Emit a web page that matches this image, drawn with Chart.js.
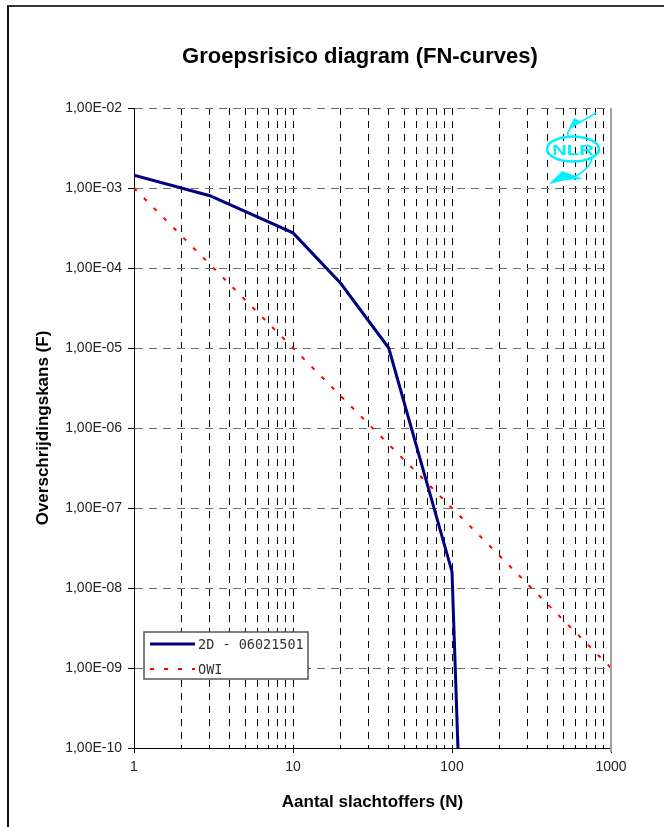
<!DOCTYPE html>
<html>
<head>
<meta charset="utf-8">
<script src="https://cdn.jsdelivr.net/npm/chart.js@4.4.1/dist/chart.umd.min.js"></script>
<style>
  body { margin: 0; background: #fff; overflow: hidden; }
  #wrap { position: relative; width: 664px; height: 827px; }
  #frame { position: absolute; left: 7px; top: 5px; width: 720px; height: 900px; border-top: 2px solid #333; border-left: 2px solid #111; }
  canvas { position: absolute; left: 0; top: 0; }
</style>
</head>
<body>
<div id="wrap">
  <canvas id="fn" width="664" height="827"></canvas>
  <div id="frame"></div>
</div>
<script>
// FN-curve data
const seriesNames = ['2D - 06021501', 'OWI'];
const curveN = [1, 3, 10, 20, 40, 100, 109];
const curveF = [1.45e-3, 8.0e-4, 2.75e-4, 6.4e-5, 1.0e-5, 1.6e-8, 1.0e-10];
const owiN = [1, 1000];
const owiF = [1e-3, 1e-9];
const xTickLabels = ['1', '10', '100', '1000'];
const yTickLabels = ['1,00E-02', '1,00E-03', '1,00E-04', '1,00E-05', '1,00E-06',
                     '1,00E-07', '1,00E-08', '1,00E-09', '1,00E-10'];

Chart.defaults.font.family = '"Liberation Sans", Arial, sans-serif';
Chart.defaults.color = '#222';

let ctx = document.getElementById('fn').getContext('2d');

// title is centred on the whole (cropped) excel chart, not the plot area
const titlePlugin = {
  id: 'fnTitle',
  afterDraw(chart) {
    const c = chart.ctx;
    c.save();
    c.font = 'bold 22px "Liberation Sans", Arial';
    c.fillStyle = '#000';
    c.textAlign = 'center';
    c.textBaseline = 'middle';
    c.fillText('Groepsrisico diagram (FN-curves)', 360, 57);
    c.restore();
  }
};

// grey right border of plot area
const borderPlugin = {
  id: 'rightBorder',
  afterDraw(chart) {
    const a = chart.chartArea, c = chart.ctx;
    c.save();
    c.strokeStyle = '#a0a0a0';
    c.lineWidth = 2;
    c.beginPath();
    c.moveTo(a.right, a.top);
    c.lineTo(a.right, a.bottom + 4);
    c.stroke();
    c.restore();
  }
};

// legend box inside the plot
const legendPlugin = {
  id: 'boxLegend',
  afterDraw(chart) {
    const c = chart.ctx;
    const x = 144, y = 632, w = 164, h = 47;
    c.save();
    c.fillStyle = '#fff';
    c.fillRect(x, y, w, h);
    c.strokeStyle = '#555';
    c.lineWidth = 1.5;
    c.strokeRect(x, y, w, h);
    chart.data.datasets.forEach((ds, i) => {
      const ly = y + 12 + i * 25;
      c.strokeStyle = ds.borderColor;
      c.lineWidth = ds.borderWidth;
      c.setLineDash(ds.borderDash || []);
      c.beginPath();
      c.moveTo(x + 6, ly);
      c.lineTo(x + 51, ly);
      c.stroke();
      c.setLineDash([]);
      c.fillStyle = '#333';
      c.font = '13.5px "DejaVu Sans Mono", monospace';
      c.textBaseline = 'middle';
      c.fillText(ds.label, x + 54, ly + 1);
    });
    c.restore();
  }
};

// NLR logo top right
const logoPlugin = {
  id: 'nlrLogo',
  afterDraw(chart) {
    const c = chart.ctx;
    c.save();
    c.strokeStyle = '#00f0ff';
    c.fillStyle = '#00f0ff';
    c.lineWidth = 2.5;
    c.beginPath();
    c.ellipse(573, 149, 26, 12.5, 0, 0, Math.PI * 2);
    c.stroke();
    c.save();
    c.translate(573, 150);
    c.scale(1.35, 1);
    c.font = 'bold 15px "Liberation Sans", Arial';
    c.textAlign = 'center';
    c.textBaseline = 'middle';
    c.fillText('NLR', 0, 1);
    c.restore();
    c.lineWidth = 1.5;
    c.beginPath();
    c.moveTo(596, 113);
    c.lineTo(575, 125);
    c.quadraticCurveTo(566, 130, 568, 136);
    c.stroke();
    c.beginPath();
    c.moveTo(569, 128);
    c.lineTo(574, 118);
    c.lineTo(582, 122);
    c.closePath();
    c.fill();
    c.beginPath();
    c.moveTo(592, 159);
    c.quadraticCurveTo(589, 170, 572, 178);
    c.stroke();
    c.beginPath();
    c.moveTo(549, 184);
    c.lineTo(562, 171);
    c.lineTo(583, 179);
    c.lineTo(566, 180);
    c.closePath();
    c.fill();
    c.restore();
  }
};

let fnChart = new Chart(ctx, {
  type: 'line',
  data: {
    datasets: [{
      label: seriesNames[0],
      data: curveN.map((n, i) => ({x: n, y: curveF[i]})),
      borderColor: '#000080',
      borderWidth: 3,
      pointRadius: 0,
      tension: 0,
      fill: false
    }, {
      label: seriesNames[1],
      data: owiN.map((n, i) => ({x: n, y: owiF[i]})),
      borderColor: '#ff0000',
      borderWidth: 2,
      borderDash: [4, 10],
      pointRadius: 0,
      tension: 0,
      fill: false
    }]
  },
  options: {
    responsive: false,
    animation: false,
    devicePixelRatio: 1,
    layout: { padding: { top: 108, right: 53, bottom: 0, left: 0 } },
    plugins: {
      legend: { display: false },
      tooltip: { enabled: false }
    },
    scales: {
      x: {
        type: 'logarithmic',
        min: 1,
        max: 1000,
        afterBuildTicks: function (scale) {
          let t = [];
          [1, 10, 100].forEach(d => {
            for (let m = 1; m < 10; m++) t.push({value: m * d, major: m === 1});
          });
          t.push({value: 1000, major: true});
          scale.ticks = t;
        },
        afterFit: function (scale) { scale.height = 79; },
        ticks: {
          autoSkip: false,
          maxRotation: 0,
          minRotation: 0,
          padding: 6,
          font: { size: 14 },
          callback: function (v) {
            return xTickLabels.includes(String(v)) ? String(v) : '';
          }
        },
        grid: {
          color: function (c) {
            if (!c.tick) return '#000';
            return (c.tick.value === 1 || c.tick.value === 1000) ? 'transparent' : '#000';
          },
          tickColor: function (c) {
            return c.tick && xTickLabels.includes(String(c.tick.value)) ? '#000' : 'transparent';
          },
          tickLength: 5,
          lineWidth: 1
        },
        border: { display: true, color: '#000', width: 1, dash: [7, 6] },
        title: {
          display: true,
          text: 'Aantal slachtoffers (N)',
          color: '#000',
          font: { size: 17, weight: 'bold' },
          padding: { top: 0, bottom: 14 }
        }
      },
      y: {
        type: 'logarithmic',
        min: 1e-10,
        max: 1e-2,
        afterBuildTicks: function (scale) {
          scale.ticks = yTickLabels.map((_, i) => ({value: Math.pow(10, -2 - i), major: true}));
        },
        afterFit: function (scale) { scale.width = 134; },
        ticks: {
          autoSkip: false,
          padding: 6,
          font: { size: 14 },
          callback: function (v, i) { return yTickLabels[i]; }
        },
        grid: {
          color: function (c) {
            return c.index === yTickLabels.length - 1 ? 'transparent' : '#6e6e6e';
          },
          tickColor: '#000',
          tickLength: 6,
          lineWidth: 1
        },
        border: { display: true, color: '#000', width: 1, dash: [8, 6] },
        title: {
          display: true,
          text: 'Overschrijdingskans (F)',
          color: '#000',
          font: { size: 17, weight: 'bold' },
          padding: { top: 33, bottom: 0 }
        }
      }
    }
  },
  plugins: [titlePlugin, borderPlugin, legendPlugin, logoPlugin]
});
</script>
</body>
</html>
